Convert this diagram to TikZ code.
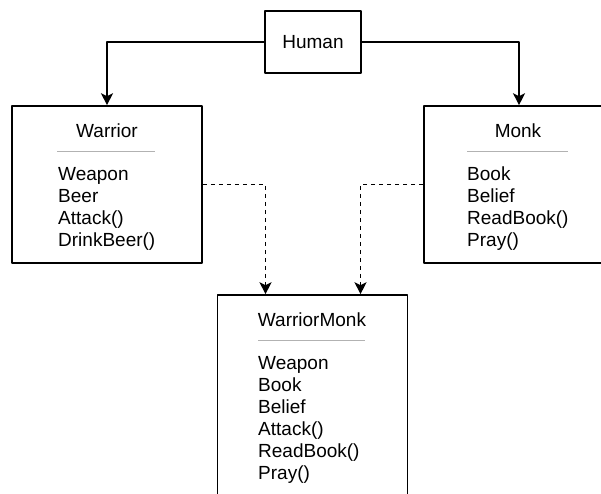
\documentclass[tikz,border=0pt]{standalone}
\usepackage{fontspec}
\setmainfont{Liberation Sans}
\usetikzlibrary{arrows.meta}
\begin{document}
\begin{tikzpicture}[x=1pt, y=-1pt, font=\fontsize{19}{22}\selectfont, line join=round,
	>={Stealth[length=12pt,width=12pt,inset=3pt]},
	box/.style={draw, line width=1.6pt, minimum width=190pt, inner sep=0pt},
	sep/.style={draw=gray!60, line width=1.4pt},
	item/.style={anchor=base west, inner sep=0pt}]
	\useasboundingbox (0,0) rectangle (601,493);
	\clip (0,0) rectangle (601,493);
	\node[draw, line width=1.6pt, minimum width=96pt, minimum height=62pt] (human) at (313,42) {Human};
	\node[box, minimum height=157pt] (warrior) at (107,184.5) {};
	\node[box, minimum height=157pt] (monk) at (519,184.5) {};
	\node[box, minimum height=202pt] (wm) at (312.5,396) {};
	% titles
	\node[anchor=base, inner sep=0pt] (warriorT) at (107,137.5) {Warrior};
	\node[anchor=base, inner sep=0pt] (monkT) at (518,137.5) {Monk};
	\node[anchor=base, inner sep=0pt] (wmT) at (312,326.5) {WarriorMonk};
	\draw[sep] (57,151.5)--(155,151.5);
	\draw[sep] (467,151.5)--(568,151.5);
	\draw[sep] (258,340.5)--(365,340.5);
	% members
	\foreach \t [count=\i from 0] in {Weapon,Beer,Attack(),DrinkBeer()}
	\node[item] (warrior\i) at (58,180.5+22*\i) {\t};
	\foreach \t [count=\i from 0] in {Book,Belief,ReadBook(),Pray()}
	\node[item] (monk\i) at (467,180.5+22*\i) {\t};
	\foreach \t [count=\i from 0] in {Weapon,Book,Belief,Attack(),ReadBook(),Pray()}
	\node[item] (wm\i) at (258,369.5+22*\i) {\t};
	% inheritance
	\draw[->, line width=1.5pt] (human.west) -| (warrior.north);
	\draw[->, line width=1.5pt] (human.east) -| (monk.north);
	\draw[->, line width=1.5pt, dash pattern=on 4pt off 4pt] (warrior.east) -| ([xshift=-47pt]wm.north);
	\draw[->, line width=1.5pt, dash pattern=on 4pt off 4pt] (monk.west) -| ([xshift=48pt]wm.north);
\end{tikzpicture}
\end{document}
